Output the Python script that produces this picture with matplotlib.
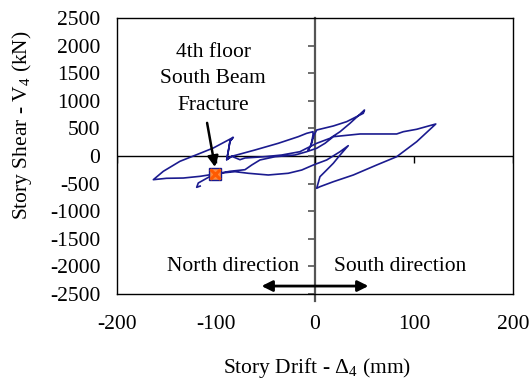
import numpy as np
import matplotlib
matplotlib.use("Agg")
import matplotlib.pyplot as plt

plt.rcParams['font.family'] = ['Liberation Serif', 'DejaVu Serif']
plt.rcParams['mathtext.fontset'] = 'custom'
plt.rcParams['mathtext.rm'] = 'Liberation Serif'
plt.rcParams['axes.unicode_minus'] = False

# 4th floor story drift (mm) vs story shear (kN)
drift = [-82.8, -85.9, -87.6, -89.2, -84.1, -80.8, -60.6, -37.1, -16.9, -8.4,
         -2.0, -2.0, -4.0, -6.8, -4.0, -1.0, 1.7, 18.5, 32.0, 48.8, 50.0,
         35.4, 25.3, 15.2, 1.7, -8.4, -15.2, -33.6, -50.5, -70.7, -75.8,
         -84.1, -89.2, -87.6, -85.9, -82.8,
         -102.7, -119.5, -136.4, -153.2, -163.3,
         -150.0, -133.0, -116.0, -101.0,
         -85.9, -70.7, -63.9, -55.6, -40.4, -20.2, -8.4, 1.7, 10.1, 18.5,
         45.5, 82.5, 89.2, 102.7, 122.0,
         102.7, 82.5, 62.3, 38.7, 18.5, 5.0, 1.7,
         5.0, 10.1, 18.5, 25.3, 33.6,
         25.3, 11.8, -1.7, -13.4, -27.0, -47.2, -67.4, -80.8, -101.0,
         -117.9, -119.5, -116.0]
shear = [335, 266, 85, -67, -5, 10, 109, 230, 350, 411,
         440, 380, 199, 109, 199, 380, 471, 544, 622, 774, 833,
         593, 440, 321, 230, 140, 78, 18, -12, -36, -67,
         -5, -67, 85, 266, 335,
         145, 24, -96, -277, -429,
         -404, -399, -368, -326,
         -277, -248, -163, -72, -13, 18, 78, 140, 230, 350,
         399, 399, 440, 484, 580,
         259, -13, -163, -344, -466, -556, -585,
         -375, -284, -132, 18, 187,
         78, -72, -163, -254, -313, -344, -313, -284, -320,
         -489, -567, -545]

# beam fracture point
frac_drift = -101.0
frac_shear = -320.0

xticks = [-200, -100, 0, 100, 200]
yticks = list(range(-2500, 2501, 500))

fs = 15.5
navy = '#1b1b8f'

fig = plt.figure(figsize=(5.32, 3.83), dpi=100)
ax = fig.add_axes([117/532, 1-294/383, 396/532, 276/383])
ax.set_xlim(-200, 200)
ax.set_ylim(-2500, 2500)
ax.set_xticks(xticks)
ax.set_yticks(yticks)
ax.tick_params(axis='x', length=0, labelsize=fs, pad=15)
ax.tick_params(axis='y', length=0, labelsize=fs, pad=12)
for s in ax.spines.values():
    s.set_linewidth(1.0)
    s.set_color('black')

# axes crossing at the origin, with their own tick marks
ax.plot([0, 0], [-2620, 2500], color='#555555', lw=1.6, zorder=1,
        clip_on=False)
ax.axhline(0, color='black', lw=1.0, zorder=1)
ax.plot(np.zeros(len(yticks)), yticks, ls='none', marker=0, ms=5,
        mew=1.2, color='#555555', zorder=1)
ax.plot(xticks, np.zeros(len(xticks)), ls='none', marker=3, ms=5,
        mew=1.0, color='black', zorder=1)

ax.plot(drift, shear, color=navy, lw=1.2, zorder=3)
ax.plot(frac_drift, frac_shear, marker='s', ms=8, mfc='#ff8c3a', mec=navy,
        mew=1.0, ls='none', zorder=4)
ax.plot(frac_drift, frac_shear, marker='x', ms=7, mec='#ff5a00', mew=2.2,
        ls='none', zorder=5)

ax.text(-103, 1400, '4th floor\nSouth Beam\nFracture', ha='center',
        va='center', fontsize=fs, linespacing=1.55)
ax.annotate('', xy=(frac_drift, -200), xytext=(-109, 600),
            arrowprops=dict(arrowstyle='-|>', color='black', lw=1.8,
                            mutation_scale=16, shrinkA=0, shrinkB=0))

ax.text(-83, -2010, 'North direction', ha='center', va='center', fontsize=fs)
ax.text(86, -2010, 'South direction', ha='center', va='center', fontsize=fs)
ax.annotate('', xy=(-54, -2356), xytext=(54, -2356),
            arrowprops=dict(arrowstyle='<|-|>', color='black', lw=2.0,
                            mutation_scale=16, shrinkA=0, shrinkB=0))

fig.text(22/532, 1-125/383, 'Story Shear - V$_4$ (kN)', rotation=90,
         ha='center', va='center', fontsize=fs)
fig.text(317/532, 1-368/383, r'Story Drift - $\Delta_4$ (mm)',
         ha='center', va='center', fontsize=fs)

fig.savefig('out.png', dpi=100)
